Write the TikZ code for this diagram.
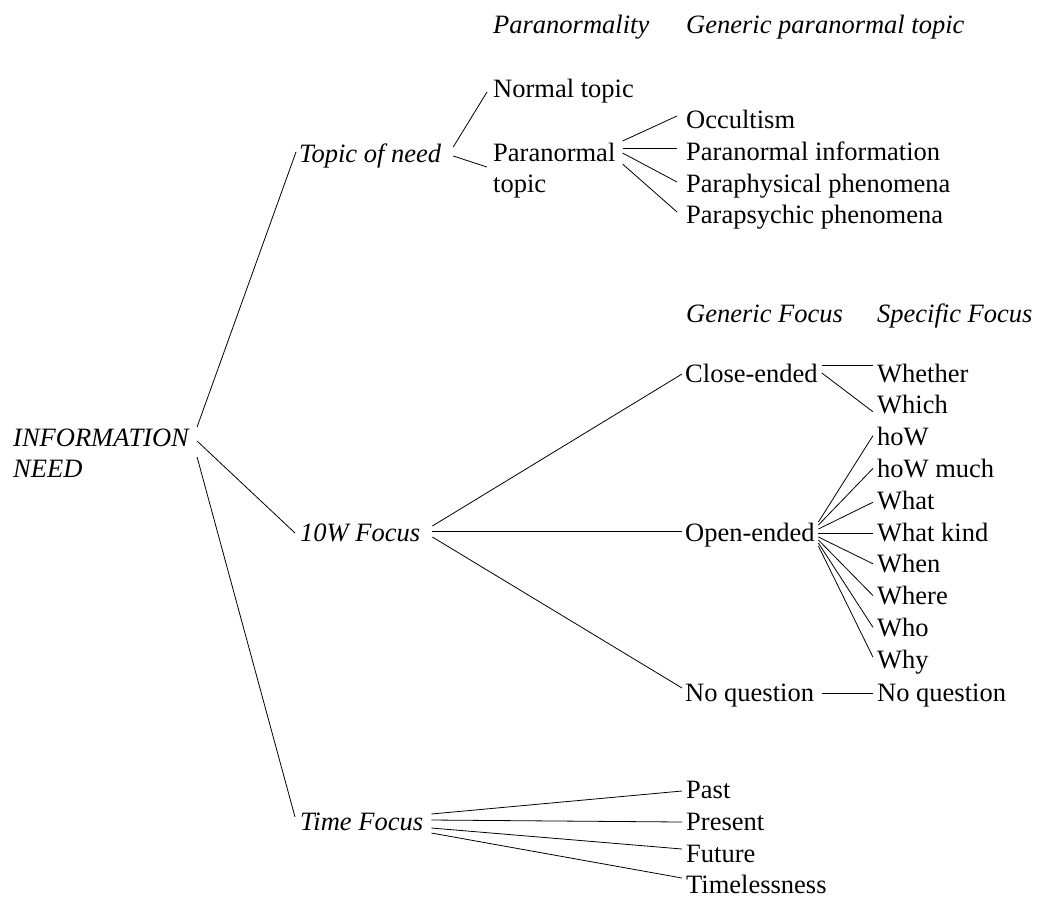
\documentclass[tikz,border=0pt]{standalone}
\usepackage{fontspec}
\setmainfont{Liberation Serif}
\begin{document}
\begin{tikzpicture}[x=1pt,y=-1pt,
  lbl/.style={inner sep=0pt, anchor=base west, font=\fontsize{26.5}{31.8}\selectfont},
  ilbl/.style={inner sep=0pt, anchor=base west, font=\fontsize{26.5}{31.8}\selectfont\itshape},
  edge/.style={draw=black, line width=0.8pt}]
\useasboundingbox[fill=white] (0,0) rectangle (1038,898);
% headers
\node[ilbl] (hPar) at (493,33) {Paranormality};
\node[ilbl] (hGen) at (686,33) {Generic paranormal topic};
\node[ilbl] (hGF) at (686,322) {Generic Focus};
\node[ilbl] (hSF) at (877,322) {Specific Focus};
% tree nodes
\node[ilbl] (root) at (13,446) {\begin{tabular}[t]{@{}l@{}}INFORMATION\\NEED\end{tabular}};
\node[ilbl] (topic) at (299,162) {Topic of need};
\node[lbl] (normal) at (493,97) {Normal topic};
\node[lbl] (para) at (493,161) {\begin{tabular}[t]{@{}l@{}}Paranormal\\topic\end{tabular}};
\node[lbl] (occ) at (686,128) {Occultism};
\node[lbl] (pinf) at (686,160) {Paranormal information};
\node[lbl] (pphy) at (686,192) {Paraphysical phenomena};
\node[lbl] (ppsy) at (686,223) {Parapsychic phenomena};
\node[ilbl] (tenw) at (300,541) {10W Focus};
\node[lbl] (close) at (685,382) {Close-ended};
\node[lbl] (open) at (685,541) {Open-ended};
\node[lbl] (noq) at (685,701) {No question};
\node[lbl] (whether) at (877,382) {Whether};
\node[lbl] (which) at (877,413.8) {Which};
\node[lbl] (how) at (877,445.6) {hoW};
\node[lbl] (howmuch) at (877,477.4) {hoW much};
\node[lbl] (what) at (877,509.2) {What};
\node[lbl] (whatkind) at (877,541) {What kind};
\node[lbl] (when) at (877,572.8) {When};
\node[lbl] (where) at (877,604.6) {Where};
\node[lbl] (who) at (877,636.4) {Who};
\node[lbl] (why) at (877,668.2) {Why};
\node[lbl] (noq2) at (877,701) {No question};
\node[ilbl] (time) at (300,830) {Time Focus};
\node[lbl] (past) at (686,798) {Past};
\node[lbl] (present) at (686,830) {Present};
\node[lbl] (future) at (686,862) {Future};
\node[lbl] (timeless) at (686,893) {Timelessness};
% connectors
\draw[edge] ([shift={(8,-19)}]root.base east) -- ([shift={(-3,-10)}]topic.base west);
\draw[edge] ([shift={(8,-5)}]root.base east) -- ([shift={(-5,-8)}]tenw.base west);
\draw[edge] ([shift={(8,11)}]root.base east) -- ([shift={(-5,-13)}]time.base west);
\draw[edge] ([shift={(12,-15)}]topic.base east) -- ([shift={(-6,-5)}]normal.base west);
\draw[edge] ([shift={(12,-6)}]topic.base east) -- ([shift={(-6,6)}]para.base west);
\draw[edge] ([shift={(7,-20)}]para.base east) -- ([shift={(-9,-12)}]occ.base west);
\draw[edge] ([shift={(7,-13)}]para.base east) -- ([shift={(-9,-12)}]pinf.base west);
\draw[edge] ([shift={(7,-8)}]para.base east) -- ([shift={(-9,-10)}]pphy.base west);
\draw[edge] ([shift={(7,3)}]para.base east) -- ([shift={(-9,-11)}]ppsy.base west);
\draw[edge] ([shift={(12,-15)}]tenw.base east) -- ([shift={(-3,-8)}]close.base west);
\draw[edge] ([shift={(12,-10)}]tenw.base east) -- ([shift={(-3,-10)}]open.base west);
\draw[edge] ([shift={(12,-4)}]tenw.base east) -- ([shift={(-3,-13)}]noq.base west);
\draw[edge] ([shift={(4,-17)}]close.base east) -- ([shift={(-4,-17)}]whether.base west);
\draw[edge] ([shift={(4,-9)}]close.base east) -- ([shift={(-4,-2)}]which.base west);
\draw[edge] ([shift={(3.5,-19)}]open.base east) -- ([shift={(-4,-10)}]how.base west);
\draw[edge] ([shift={(3.5,-16)}]open.base east) -- ([shift={(-4,-9)}]howmuch.base west);
\draw[edge] ([shift={(3.5,-12)}]open.base east) -- ([shift={(-4,-7)}]what.base west);
\draw[edge] ([shift={(3.5,-8)}]open.base east) -- ([shift={(-4,-8)}]whatkind.base west);
\draw[edge] ([shift={(3.5,-4)}]open.base east) -- ([shift={(-4,-9)}]when.base west);
\draw[edge] ([shift={(3.5,-1)}]open.base east) -- ([shift={(-4,-9)}]where.base west);
\draw[edge] ([shift={(3.5,2)}]open.base east) -- ([shift={(-4,-9)}]who.base west);
\draw[edge] ([shift={(3.5,5)}]open.base east) -- ([shift={(-4,-11)}]why.base west);
\draw[edge] ([shift={(8,-8)}]noq.base east) -- ([shift={(-4,-8)}]noq2.base west);
\draw[edge] ([shift={(8,-16)}]time.base east) -- ([shift={(-4,-7)}]past.base west);
\draw[edge] ([shift={(8,-10)}]time.base east) -- ([shift={(-4,-8)}]present.base west);
\draw[edge] ([shift={(8,-2)}]time.base east) -- ([shift={(-4,-13)}]future.base west);
\draw[edge] ([shift={(8,3)}]time.base east) -- ([shift={(-4,-15)}]timeless.base west);
\end{tikzpicture}
\end{document}
